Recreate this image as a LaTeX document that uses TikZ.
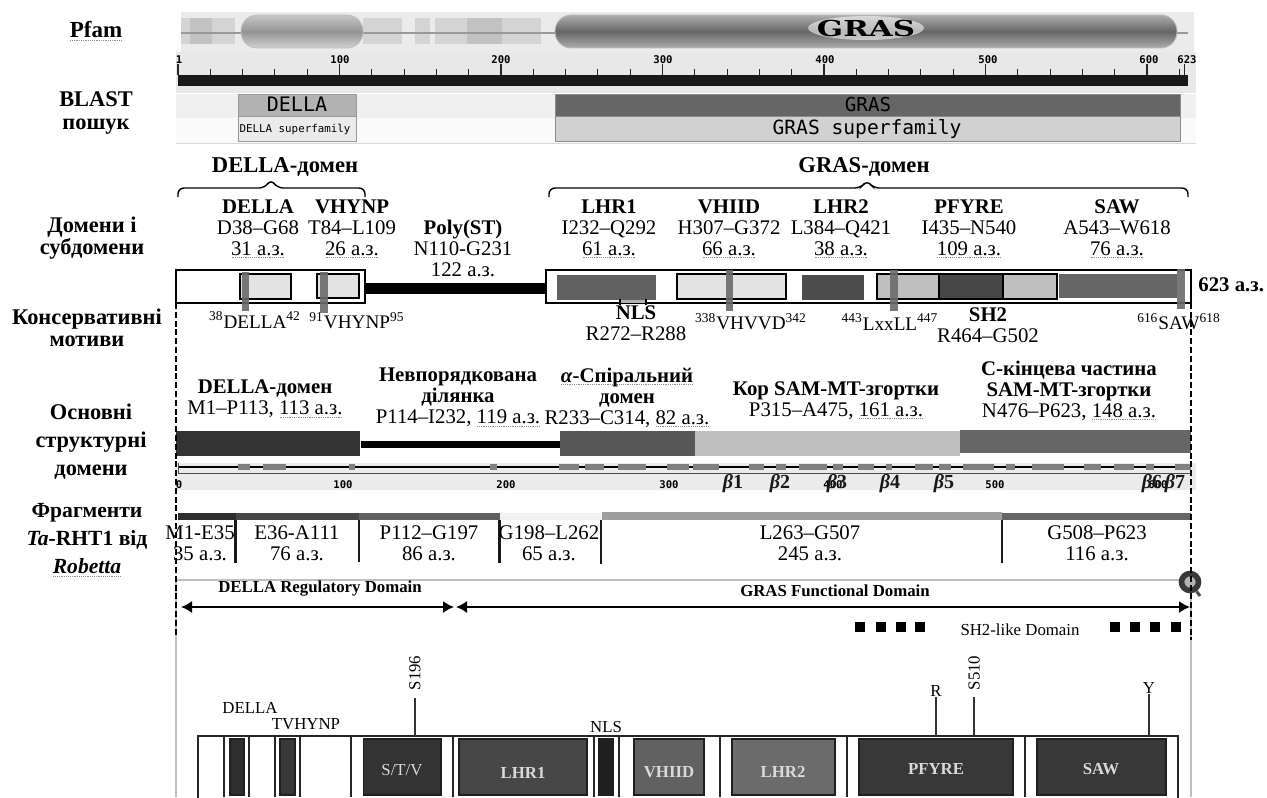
\documentclass[tikz,border=0pt]{standalone}
\usepackage{fontspec}
\setmainfont{Liberation Serif}
\setmonofont{DejaVu Sans Mono}
\newfontfamily\pfamfont{DejaVu Serif}
\usetikzlibrary{arrows.meta}
\newsavebox{\splbox}
\newcommand{\spl}[1]{\sbox{\splbox}{#1}\leavevmode\rlap{\raisebox{-1.5pt}{\textcolor{black!45}{\hbox to\wd\splbox{\xleaders\hbox to 0.9pt{\hss\rule{0.5pt}{0.5pt}\hss}\hfill}}}}\usebox{\splbox}}
\newcommand{\bbeta}{\textit{\textbf{β}}}

\begin{document}
\begin{tikzpicture}[
  x=0.5pt, y=-0.5pt,
  side/.style={align=center, inner sep=0pt, font=\bfseries\fontsize{11.2}{11}\selectfont},
  head/.style={align=center, inner sep=0pt, font=\bfseries\fontsize{11.3}{12}\selectfont},
  dom/.style={align=center, inner sep=0pt, font=\fontsize{10.4}{10.5}\selectfont},
  motif/.style={inner sep=0pt, font=\fontsize{9.6}{11}\selectfont},
  ruler/.style={inner sep=0pt, font=\ttfamily\bfseries\fontsize{5.3}{6}\selectfont},
  betalab/.style={inner sep=0pt, text=black!90, font=\fontsize{10}{12}\selectfont},
  subbox/.style={draw=black, line width=0.8pt},
  motifbar/.style={fill=black!58, opacity=.9},
  sep/.style={line width=1.1pt, black!90},
  mid/.style={inner sep=0pt, font=\fontsize{8.4}{9}\selectfont},
  midb/.style={inner sep=0pt, font=\bfseries\fontsize{8.4}{9}\selectfont},
  gene/.style={draw=black!85, line width=0.7pt},
  genelab/.style={inner sep=0pt, text=black!15, font=\bfseries\fontsize{8.4}{9}\selectfont},
  dbl/.style={line width=0.8pt, black, {Latex[length=5.5pt,width=6pt]}-{Latex[length=5.5pt,width=6pt]}},
  pin/.style={line width=0.7pt, black!80},
  dashv/.style={line width=0.8pt, black, dash pattern=on 3pt off 1.4pt}
]
\useasboundingbox (0,0) rectangle (1267,797);
\clip (0,0) rectangle (1267,797);

% Pfam
\fill[black!8] (181,12) rectangle (1194,52);
\fill[black!17] (181,18) rectangle (235,44);
\fill[black!24] (190,18) rectangle (212,44);
\fill[black!17] (363,18) rectangle (402,44);
\fill[black!17] (415,18) rectangle (430,44);
\fill[black!17] (435,18) rectangle (541,44);
\fill[black!24] (467,18) rectangle (502,44);
\draw[black!40, line width=1.2pt] (181,33) -- (1188,33);
\shadedraw[draw=black!25, top color=black!22, bottom color=black!18, middle color=black!42, rounded corners=8pt]
  (241,15) rectangle (363,48);
\shadedraw[draw=black!25, top color=black!32, bottom color=black!32, middle color=black!60, rounded corners=8pt]
  (555,15) rectangle (1177,48);
\fill[white, opacity=.55] (866,28) ellipse (58 and 12);
\node[inner sep=0pt, font=\pfamfont\bfseries\fontsize{11}{12}\selectfont] (pfamGras) at (866,28) {\scalebox{1.4}[1]{GRAS}};
\node[side, font=\bfseries\fontsize{11.5}{12}\selectfont] (pfamLab) at (96,31) {\spl{Pfam}};

% ruler
\fill[black!9] (176,52) rectangle (1196,93);
\fill[black!90] (178,75) rectangle (1188,86);
\foreach \r in {0,20,...,620}
  \draw[black!85, line width=0.5pt] (178+1.615*\r,69) -- (178+1.615*\r,75);
\foreach \r in {0,100,200,300,400,500,600,623}
  \draw[black!85, line width=0.6pt] (178+1.615*\r,64) -- (178+1.615*\r,75);
\foreach \r/\xp/\t in {a/179/1,b/340/100,c/501/200,d/663/300,e/825/400,f/988/500,g/1149/600,h/1187/623}
  \node[ruler] (rul\r) at (\xp,60) {\t};

% BLAST
\fill[black!6] (176,94) rectangle (1196,118);
\fill[black!2] (176,118) rectangle (1196,143);
\draw[black!15] (176,143) -- (1196,143);
\draw[black!40, fill=black!30] (238,94) rectangle (356,116);
\draw[black!40, fill=black!8] (238,116) rectangle (356,141);
\draw[black!45, fill=black!60] (555,94) rectangle (1180,116);
\draw[black!45, fill=black!18] (555,116) rectangle (1180,141);
\node[inner sep=0pt, font=\ttfamily\fontsize{10}{12}\selectfont] (blDella) at (297,104.5) {DELLA};
\node[inner sep=0pt, font=\ttfamily\fontsize{5.4}{6}\selectfont] (blDellaSf) at (295,129) {DELLA superfamily};
\node[inner sep=0pt, font=\ttfamily\fontsize{9.6}{12}\selectfont] (blGras) at (868,104.5) {GRAS};
\node[inner sep=0pt, font=\ttfamily\fontsize{9.8}{12}\selectfont] (blGrasSf) at (867,129) {GRAS superfamily};
\node[side] (blastLab) at (96,113) {BLAST\\[0.5pt]пошук};

% domains
\node[head] (dellaHead) at (285,167) {DELLA-домен};
\node[head] (grasHead) at (864,167) {GRAS-домен};
\coordinate (dellaTip) at (271,179);
\coordinate (grasTip) at (867,180);
\draw[line width=0.7pt, rounded corners=3pt] (178,197) -- (178,188) -- (265,188) -- (dellaTip) -- (277,188) -- (365,188) -- (365,197);
\draw[line width=0.7pt, rounded corners=3pt] (549,197) -- (549,188) -- (861,188) -- (grasTip) -- (873,188) -- (1188,188) -- (1188,197);
\node[dom] (domDella) at (258,229) {\textbf{DELLA}\\D38–G68\\\spl{31 а.з.}};
\node[dom] (domVhynp) at (352,229) {\textbf{VHYNP}\\T84–L109\\\spl{26 а.з.}};
\node[dom] (domPoly) at (463,248) {\textbf{Poly(ST)}\\N110-G231\\122 а.з.};
\node[dom] (domLhrA) at (609,229) {\textbf{LHR1}\\I232–Q292\\\spl{61 а.з.}};
\node[dom] (domVhiid) at (729,229) {\textbf{VHIID}\\H307–G372\\\spl{66 а.з.}};
\node[dom] (domLhrB) at (841,229) {\textbf{LHR2}\\L384–Q421\\\spl{38 а.з.}};
\node[dom] (domPfyre) at (969,229) {\textbf{PFYRE}\\I435–N540\\\spl{109 а.з.}};
\node[dom] (domSaw) at (1117,229) {\textbf{SAW}\\A543–W618\\\spl{76 а.з.}};
\node[side] (domLab) at (92,238.5) {Домени і\\субдомени};
\node[side] (motLab) at (87,328) {Консервативні\\мотиви};

% domain bar
\draw[line width=1.2pt, black, fill=white] (176,270) rectangle (365,303);
\draw[line width=1.2pt, black, fill=white] (546,270) rectangle (1191,303);
\fill[black] (365,283) rectangle (546,294);
\draw[subbox, fill=black!11] (240,274) rectangle (291,299);
\draw[subbox, fill=black!11] (317,274) rectangle (359,298);
\fill[black!62] (557,275) rectangle (656,300);
\fill[black!30] (620,300) rectangle (646,303);
\draw[subbox, fill=black!11] (677,274) rectangle (786,299);
\fill[black!70] (802,275) rectangle (864,300);
\draw[subbox, fill=black!25] (877,274) rectangle (1057,299);
\draw[subbox, fill=black!72] (939,274) rectangle (1003,299);
\fill[black!60] (1059,274) rectangle (1177,298);
\fill[motifbar] (242,272) rectangle (249,311);
\fill[motifbar] (320,272) rectangle (328,313);
\fill[motifbar] (725.5,270) rectangle (732.5,311);
\fill[motifbar] (890,270) rectangle (898,311);
\fill[motifbar] (1177,269) rectangle (1185,309);
\draw[line width=0.6pt] (620,299) -- (620,305);
\draw[line width=0.6pt] (646,299) -- (646,305);
\node[side, font=\bfseries\fontsize{10.4}{12}\selectfont, anchor=west] (totalLen) at (1198,285) {623 а.з.};

% motifs
\node[motif] (motDella) at (255,320) {\textsuperscript{38}DELLA\textsuperscript{42}};
\node[motif] (motVhynp) at (357,321) {\textsuperscript{91}VHYNP\textsuperscript{95}};
\node[motif] (motVhvvd) at (751,322) {\textsuperscript{338}VHVVD\textsuperscript{342}};
\node[motif] (motLxxll) at (890,322) {\textsuperscript{443}LxxLL\textsuperscript{447}};
\node[motif] (motSaw) at (1179,322) {\textsuperscript{616}SAW\textsuperscript{618}};
\node[dom] (motNls) at (636,323) {\textbf{NLS}\\R272–R288};
\node[dom] (motSh) at (988,325) {\textbf{SH2}\\R464–G502};

% structural domains
\node[dom] (strDella) at (265,399) {\textbf{DELLA-домен}\\M1–P113, \spl{113 а.з.}};
\node[dom] (strDis) at (458,397.5) {\textbf{Невпорядкована}\\\textbf{ділянка}\\P114–I232, \spl{119 а.з.}};
\node[dom] (strAlpha) at (627,397.5) {\spl{\textbf{\textit{α}-Спіральний}}\\\textbf{домен}\\R233–C314, \spl{82 а.з.}};
\node[dom] (strCore) at (836,400.5) {\textbf{Кор SAM-MT-згортки}\\P315–A475, \spl{161 а.з.}};
\node[dom] (strCterm) at (1069,390.5) {\textbf{С-кінцева частина}\\\textbf{SAM-MT-згортки}\\N476–P623, \spl{148 а.з.}};
\node[side] (strLab) at (91,441.5) {Основні\\[3pt]структурні\\[3pt]домени};
\fill[black!80] (176,431) rectangle (360,456);
\fill[black] (361,441) rectangle (560,448);
\fill[black!66] (560,431) rectangle (695,456);
\fill[black!25] (695,431) rectangle (960,456);
\fill[black!60] (960,430) rectangle (1191,453);

% secondary structure strip
\fill[black!8] (176,463) rectangle (1196,490);
\draw[black, line width=1pt] (178,467) -- (1191,467);
\draw[black!70, line width=0.4pt] (178,473) -- (1191,473);
\draw[black!70, line width=0.4pt] (178,463) -- (178,473);
\foreach \xa/\xb in {238/250,263/286,349/355,490/497,559/579,585/604,618/646,667/689,693/719,749/764,776/786,799/827,833/843,858/874,886/892,915/933,939/951,963/994,1006/1015,1032/1064,1084/1101,1114/1134,1146/1154,1175/1191}
  \fill[black!50] (\xa,464) rectangle (\xb,470);
\foreach \r/\xp/\t in {a/179/0,b/343/100,c/506/200,d/669/300,e/833/400,f/995/500,g/1158/600}
  \node[ruler] (sec\r) at (\xp,485) {\t};
\foreach \n/\xp in {1/733,2/780,3/837,4/890,5/944,6/1152,7/1175}
  \node[betalab] (beta\n) at (\xp,484) {\bbeta\textbf{\n}};

% fragments
\node[side, font=\bfseries\fontsize{10.8}{11}\selectfont] (frLab) at (87,540) {Фрагменти\\[3pt]\textit{Ta}-RHT1 від\\[3pt]\spl{\textit{Robetta}}};
\fill[black!82] (178,513) rectangle (236,520);
\fill[black!72] (236,513) rectangle (359,520);
\fill[black!62] (359,513) rectangle (500,520);
\fill[black!5] (500,513) rectangle (602,520);
\fill[black!38] (602,512) rectangle (1002,520);
\fill[black!60] (1002,513) rectangle (1191,520);
\foreach \xp/\yb in {235.5/563,359/562,499.5/563,601/564,1002/563}
  \draw[sep] (\xp,520) -- (\xp,\yb);
\node[dom] (frA) at (200,543) {M1-E35\\35 а.з.};
\node[dom] (frB) at (297,543) {E36-A111\\76 а.з.};
\node[dom] (frC) at (429,543) {P112–G197\\86 а.з.};
\node[dom] (frD) at (549,543) {G198–L262\\65 а.з.};
\node[dom] (frE) at (810,543) {L263–G507\\245 а.з.};
\node[dom] (frF) at (1097,543) {G508–P623\\116 а.з.};

% lower panel
\draw[black!25, line width=1pt] (176,580) -- (1191,580);
\draw[black!25, line width=0.6pt] (176,580) -- (176,797);
\draw[black!25, line width=0.6pt] (1191,580) -- (1191,797);
\node[circle, draw=black!78, fill=black!30, line width=2.8pt, minimum size=8.5pt, inner sep=0pt] (zoomIcon) at (1190,582) {};
\coordinate (zoomTail) at (1200,596);
\draw[black!70, line width=1.5pt] (zoomIcon) -- (zoomTail);
\draw[dashv] (176,303) -- (176,637);
\draw[dashv] (1191,303) -- (1191,640);
\node[midb] (regLab) at (320,588.5) {DELLA Regulatory Domain};
\node[midb] (funcLab) at (835,591) {GRAS Functional Domain};
\coordinate (regL) at (181,607);
\coordinate (regR) at (454,607);
\coordinate (funcL) at (456,607);
\coordinate (funcR) at (1190,607);
\draw[dbl] (regL) -- (regR);
\draw[dbl] (funcL) -- (funcR);
\node[mid] (shLab) at (1020,630) {SH2-like Domain};
\foreach \xp in {860,881,901,920,1115,1135,1155,1176}
  \node[fill=black, minimum size=5pt, inner sep=0pt] (sq\xp) at (\xp,627) {};

% gene scheme
\draw[gene] (198,736) rectangle (1178,810);
\foreach \xp in {224,249,275,300,351,453,594,619,720,847,1025}
  \draw[gene] (\xp,736) -- (\xp,797);
\foreach \xa/\xb/\gr in {230/244/82,280/295/78,363.5/441/80,459/587/72,599/613/88,634/704/62,732/835/58,859/1013/78,1037/1166/78}
  \draw[draw=black!88, line width=0.7pt, fill=black!\gr] (\xa,739) rectangle (\xb,795);
\node[genelab, font=\fontsize{8.4}{9}\selectfont] (gSt) at (402,770) {S/T/V};
\node[genelab] (gLa) at (523,773) {LHR1};
\node[genelab] (gV) at (669,772) {VHIID};
\node[genelab] (gLb) at (783,772) {LHR2};
\node[genelab] (gP) at (936,769) {PFYRE};
\node[genelab] (gS) at (1101,769) {SAW};
\node[mid] (tDella) at (250,708) {DELLA};
\node[mid] (tVhynp) at (306,724) {TVHYNP};
\node[mid] (tNls) at (606,727) {NLS};
\node[mid, rotate=90] (tSa) at (415,673) {S196};
\node[mid] (tR) at (936,691) {R};
\node[mid, rotate=90] (tSb) at (974,673) {S510};
\node[mid] (tY) at (1149,688) {Y};
\coordinate (geneTop) at (0,736);
\draw[pin] (tSa.west |- 0,698) -- (tSa.west |- geneTop);
\draw[pin] (tR.south) -- (tR.south |- geneTop);
\draw[pin] (tSb.west |- 0,697) -- (tSb.west |- geneTop);
\draw[pin] (tY.south) -- (tY.south |- geneTop);
\end{tikzpicture}
\end{document}
